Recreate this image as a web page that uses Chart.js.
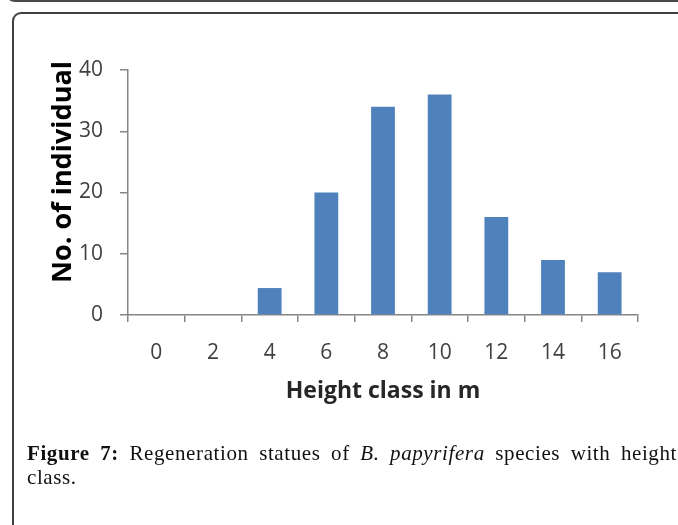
<!DOCTYPE html>
<html>
<head>
<meta charset="utf-8">
<script src="https://cdn.jsdelivr.net/npm/chart.js@4.4.1/dist/chart.umd.min.js"></script>
<style>
  html, body { margin: 0; padding: 0; background: #fff; }
  body { width: 678px; height: 525px; position: relative; overflow: hidden; }
  #topband { position: absolute; left: 5px; top: -30px; width: 720px; height: 32px; box-sizing: border-box;
             border: 2px solid #4a4a4a; border-radius: 10px; }
  #box { position: absolute; left: 12px; top: 12px; width: 720px; height: 600px; box-sizing: border-box;
         border: 2px solid #3f3f3f; border-radius: 9px; }
  #wrap { position: absolute; left: 0; top: 0; width: 678px; height: 525px; }
  #caption { position: absolute; left: 27px; top: 441px; width: 650px;
             font-family: "Liberation Serif", "Times New Roman", serif; font-size: 21px; letter-spacing: 0.6px; color: #111; line-height: 24px; }
  #caption .l1 { text-align: justify; text-align-last: justify; white-space: nowrap; }
  #caption b { font-weight: bold; }
</style>
</head>
<body>
<div id="topband"></div>
<div id="box"></div>
<div id="wrap"><canvas id="c" width="678" height="525"></canvas></div>
<div id="caption">
  <div class="l1"><b>Figure 7:</b> Regeneration statues of <i>B. papyrifera</i> species with height</div>
  <div>class.</div>
</div>
<script>
const categories = ["0", "2", "4", "6", "8", "10", "12", "14", "16"];
const individuals = [0, 0, 4.4, 20, 34, 36, 16, 9, 7];
const yTicks = [0, 10, 20, 30, 40];
const yTitle = "No. of individual";
const xTitle = "Height class in m";

const yTitlePlugin = {
  id: 'yTitlePlugin',
  afterDraw(chart) {
    const ctx = chart.ctx;
    ctx.save();
    ctx.translate(63, 172);
    ctx.rotate(-Math.PI / 2);
    ctx.font = 'bold 27px "Open Sans"';
    ctx.fillStyle = '#000';
    ctx.textAlign = 'center';
    ctx.textBaseline = 'middle';
    ctx.fillText(yTitle, 0, 0);
    ctx.restore();
  }
};

new Chart(document.getElementById('c'), {
  type: 'bar',
  data: {
    labels: categories,
    datasets: [{
      data: individuals,
      backgroundColor: '#4F81BD',
      borderWidth: 0,
      barPercentage: 0.42,
      categoryPercentage: 1.0
    }]
  },
  options: {
    responsive: false,
    animation: false,
    devicePixelRatio: 1,
    layout: { padding: { left: 0, right: 40, top: 70, bottom: 110 } },
    plugins: { legend: { display: false }, tooltip: { enabled: false } },
    scales: {
      x: {
        grid: { offset: true, drawOnChartArea: false, drawTicks: true, tickLength: 7, color: '#868686', lineWidth: 1.5 },
        border: { display: true, color: '#868686', width: 1.5 },
        ticks: { color: '#404040', font: { family: '"Open Sans"', size: 21 }, padding: 18, maxRotation: 0 },
        title: { display: true, text: xTitle, color: '#262626', font: { family: '"Open Sans"', size: 23, weight: 'bold' }, padding: { top: 0, bottom: 10 } },
        afterFit(scale) { scale.height = 100; }
      },
      y: {
        min: 0, max: 40,
        afterBuildTicks(scale) { scale.ticks = yTicks.map(v => ({ value: v })); },
        grid: { drawOnChartArea: false, drawTicks: true, tickLength: 8, color: '#868686', lineWidth: 1.5 },
        border: { display: true, color: '#868686', width: 1.5 },
        ticks: { color: '#404040', font: { family: '"Open Sans"', size: 21 }, padding: 17 },
        afterFit(scale) { scale.width = 128; }
      }
    }
  },
  plugins: [yTitlePlugin]
});
</script>
</body>
</html>
